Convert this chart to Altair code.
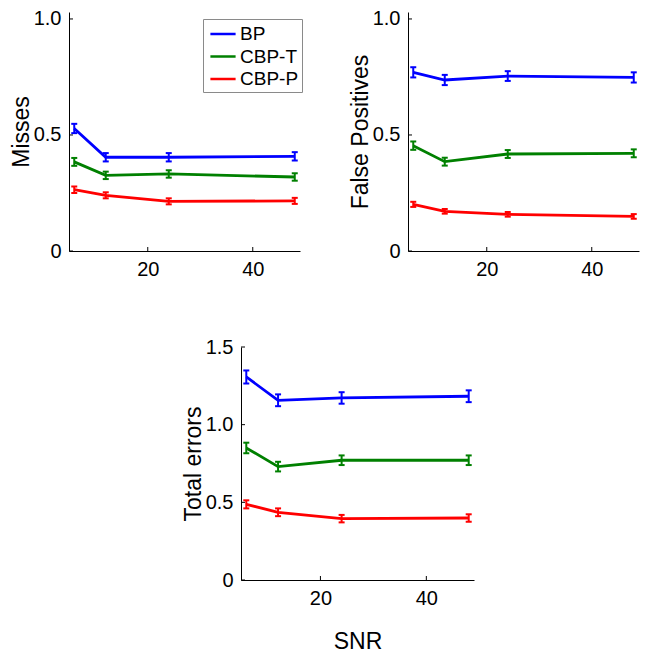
import altair as alt
import pandas as pd

snr = [6, 12, 24, 48]
methods = ["BP", "CBP-T", "CBP-P"]
colors = ["#0000ff", "#008000", "#ff0000"]

misses_bp = [0.528, 0.404, 0.404, 0.408]
misses_cbpt = [0.384, 0.326, 0.332, 0.319]
misses_cbpp = [0.264, 0.240, 0.214, 0.216]
misses_err_bp = [0.020, 0.018, 0.018, 0.018]
misses_err_cbpt = [0.017, 0.016, 0.016, 0.016]
misses_err_cbpp = [0.014, 0.013, 0.013, 0.013]

fp_bp = [0.770, 0.737, 0.754, 0.748]
fp_cbpt = [0.454, 0.385, 0.418, 0.421]
fp_cbpp = [0.201, 0.171, 0.158, 0.149]
fp_err_bp = [0.022, 0.022, 0.021, 0.022]
fp_err_cbpt = [0.018, 0.017, 0.017, 0.017]
fp_err_cbpp = [0.011, 0.010, 0.010, 0.010]

tot_bp = [1.307, 1.157, 1.172, 1.183]
tot_cbpt = [0.850, 0.730, 0.771, 0.771]
tot_cbpp = [0.487, 0.436, 0.395, 0.399]
tot_err_bp = [0.042, 0.038, 0.037, 0.038]
tot_err_cbpt = [0.034, 0.031, 0.031, 0.031]
tot_err_cbpp = [0.026, 0.025, 0.024, 0.024]

x_ticks = [20, 40]
y_ticks_top = [0, 0.5, 1.0]
y_ticks_bottom = [0, 0.5, 1.0, 1.5]

FONT = "Liberation Sans"


def make_df(vals, errs):
    rows = []
    for m, v, e in zip(methods, vals, errs):
        for s, vv, ee in zip(snr, v, e):
            rows.append({"snr": s, "val": vv, "lo": vv - ee, "hi": vv + ee, "method": m})
    return pd.DataFrame(rows)


def panel(vals, errs, ytitle, ymax, yticks, width, height, xtitle="", legend=False):
    df = make_df(vals, errs)
    xs = alt.Scale(domain=[5, 49], nice=False, zero=False)
    ys = alt.Scale(domain=[0, ymax], nice=False)
    cs = alt.Scale(domain=methods, range=colors)
    xaxis = alt.Axis(values=x_ticks, format="d", tickSize=0, labelPadding=8,
                     titlePadding=22, domainColor="black", title=xtitle)
    yaxis = alt.Axis(values=yticks, tickSize=0, labelPadding=8, titlePadding=0,
                     labelExpr="datum.value == 0 ? '0' : format(datum.value, '.1f')",
                     domainColor="black", title=ytitle)

    def X(f):
        return alt.X(f, scale=xs, axis=xaxis, title=xtitle)

    def Y(f):
        return alt.Y(f, scale=ys, axis=yaxis, title=ytitle)

    if legend:
        leg = alt.Legend(title=None, orient="none", legendX=134, legendY=7,
                         symbolType="M-1.2,0H1.2", symbolSize=441, symbolStrokeWidth=2.5,
                         symbolOffset=5,
                         labelFontSize=19, labelFont=FONT, labelColor="black",
                         strokeColor="#8a8a8a", fillColor="white", padding=3,
                         rowPadding=0.5, labelOffset=5)
    else:
        leg = None
    col = alt.Color("method:N", scale=cs, legend=leg, sort=methods)
    base = alt.Chart(df)
    line = base.mark_line(strokeWidth=2.8).encode(x=X("snr:Q"), y=Y("val:Q"), color=col)
    bars = base.mark_rule(strokeWidth=2).encode(x=X("snr:Q"), y=Y("lo:Q"), y2="hi:Q", color=col)
    cap_lo = base.mark_tick(orient="horizontal", size=6, thickness=2, opacity=1).encode(
        x=X("snr:Q"), y=Y("lo:Q"), color=col)
    cap_hi = base.mark_tick(orient="horizontal", size=6, thickness=2, opacity=1).encode(
        x=X("snr:Q"), y=Y("hi:Q"), color=col)
    yt = alt.Chart(pd.DataFrame({"v": yticks})).mark_rule(color="black", strokeWidth=1).encode(
        y=Y("v:Q"), x=alt.value(0), x2=alt.value(4))
    xt = alt.Chart(pd.DataFrame({"t": x_ticks})).mark_rule(color="black", strokeWidth=1).encode(
        x=X("t:Q"), y=alt.value(height), y2=alt.value(height - 4))
    return alt.layer(bars, cap_lo, cap_hi, line, yt, xt).properties(width=width, height=height)


p1 = panel([misses_bp, misses_cbpt, misses_cbpp],
           [misses_err_bp, misses_err_cbpt, misses_err_cbpp],
           "Misses", 1.03, y_ticks_top, 231, 239, legend=True)
p2 = panel([fp_bp, fp_cbpt, fp_cbpp],
           [fp_err_bp, fp_err_cbpt, fp_err_cbpp],
           "False Positives", 1.03, y_ticks_top, 231, 239)
p3 = panel([tot_bp, tot_cbpt, tot_cbpp],
           [tot_err_bp, tot_err_cbpt, tot_err_cbpp],
           "Total errors", 1.5, y_ticks_bottom, 233, 233, xtitle="SNR")

spacer = alt.Chart(pd.DataFrame({"a": [0]})).mark_point(opacity=0).encode(
    x=alt.value(0), y=alt.value(0)).properties(width=113, height=233)

top = alt.hconcat(p1, p2, spacing=46).resolve_scale(color="independent")
bottom = alt.hconcat(spacer, p3, spacing=0).resolve_scale(color="independent")

chart = alt.vconcat(top, bottom, spacing=58).resolve_scale(color="independent").properties(
    padding={"left": 2, "top": 0, "right": 0, "bottom": 0},
    background="white",
).configure_view(stroke=None).configure_axis(
    labelFont=FONT, titleFont=FONT, labelFontSize=20, titleFontSize=23,
    labelColor="black", titleColor="black", titleFontWeight="normal",
    grid=False, domainWidth=1,
)

chart.save("out.html", embed_options={"renderer": "svg", "actions": False})
